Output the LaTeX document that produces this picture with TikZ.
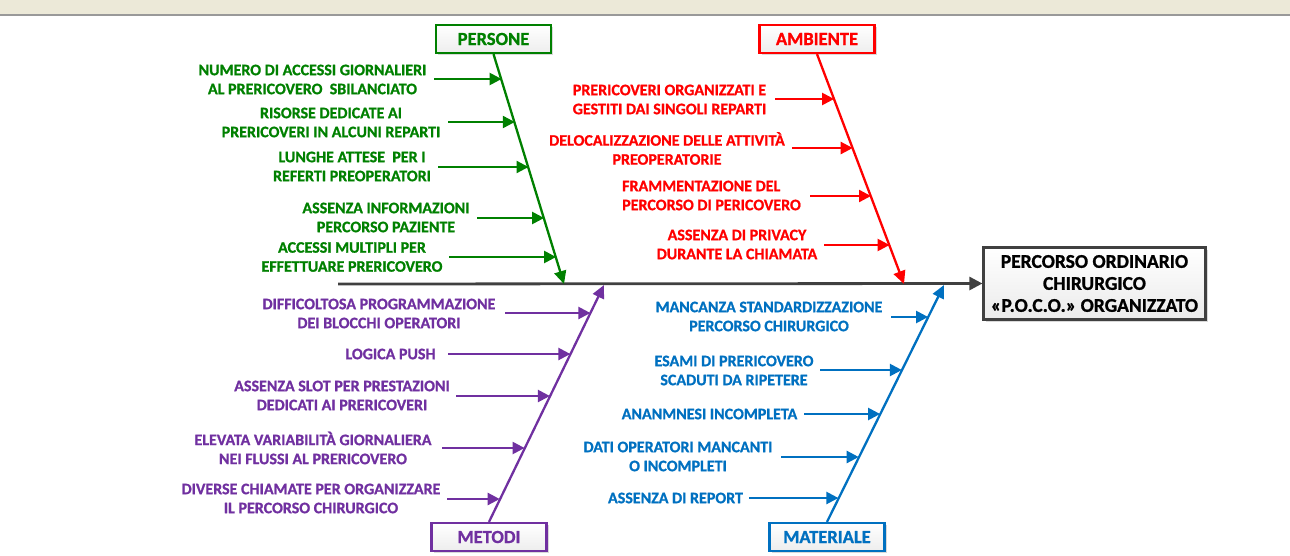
\documentclass[tikz,border=0pt]{standalone}
\usepackage{fontspec}
\setmainfont{Carlito}[BoldFeatures={FakeBold=1}]
\usetikzlibrary{arrows.meta,shadows,calc}
\definecolor{cgreen}{RGB}{0,128,0}
\definecolor{cred}{RGB}{255,0,0}
\definecolor{cpurple}{RGB}{112,48,160}
\definecolor{cblue}{RGB}{0,112,192}
\definecolor{cspine}{RGB}{64,64,64}
\definecolor{band}{RGB}{236,233,216}
\tikzset{
  cause/.style={font=\bfseries\fontsize{16}{19}\selectfont, align=center, inner sep=0pt, text=#1},
  catbox/.style={draw=#1, text=#1, line width=2.2pt, font=\bfseries\fontsize{18.5}{22}\selectfont,
    minimum width=115pt, minimum height=28pt, inner sep=0pt, top color=white, bottom color=gray!14,
    drop shadow={opacity=0.3, shadow xshift=2pt, shadow yshift=-2pt}},
  branch/.style={draw=#1, line width=2.3pt, -{Triangle[length=13pt,width=12pt]}},
  causearrow/.style={draw=#1, line width=2.3pt, -{Triangle[length=12pt,width=12pt]}},
}
\begin{document}
\begin{tikzpicture}[x=1pt,y=-1pt]
\useasboundingbox (0,0) rectangle (1290,555);
% top band
\fill[band] (0,0) rectangle (1290,14);
\draw[gray!80, line width=2pt] (0,15) -- (1290,15);

% effect box
\node[draw=cspine, line width=2.2pt, minimum width=222pt, minimum height=72pt, inner sep=0pt,
  top color=white, bottom color=gray!16, drop shadow={opacity=0.3, shadow xshift=2pt, shadow yshift=-2pt},
  align=center, font=\bfseries\fontsize{19.5}{22}\selectfont] (effect) at (1094.5,283.5)
  {PERCORSO ORDINARIO\\CHIRURGICO\\«P.O.C.O.» ORGANIZZATO};

% category boxes
\node[catbox=cgreen] (persone) at (493.5,39) {PERSONE};
\node[catbox=cred] (ambiente) at (817,39) {AMBIENTE};
\node[catbox=cpurple] (metodi) at (489,537) {METODI};
\node[catbox=cblue] (materiale) at (827,537) {MATERIALE};

% spine
\coordinate (s0) at (338,284);
\draw[cspine, line width=2.8pt, -{Triangle[length=13pt,width=13pt]}] (s0) -- (effect.west);

% branch tips on spine
\coordinate (gtip) at (564,284);
\coordinate (rtip) at (904,284);
\coordinate (ptip) at (604,285);
\coordinate (btip) at (944,285);
\draw[branch=cgreen] (persone.south) -- (gtip);
\draw[branch=cred] (ambiente.south) -- (rtip);
\draw[branch=cpurple] (metodi.north) -- (ptip);
\draw[branch=cblue] (materiale.north) -- (btip);

% ---- PERSONE causes
\node[cause=cgreen] (g1) at (312.5,79.5) {NUMERO DI ACCESSI GIORNALIERI\\AL PRERICOVERO\ \ SBILANCIATO};
\node[cause=cgreen] (g2) at (331,122.5) {RISORSE DEDICATE AI\\PRERICOVERI IN ALCUNI REPARTI};
\node[cause=cgreen] (g3) at (352,166.5) {LUNGHE ATTESE\ \ PER I\\REFERTI PREOPERATORI};
\node[cause=cgreen] (g4) at (386,217.5) {ASSENZA INFORMAZIONI\\PERCORSO PAZIENTE};
\node[cause=cgreen] (g5) at (352,257) {ACCESSI MULTIPLI PER\\EFFETTUARE PRERICOVERO};
\coordinate (g1a) at (434,79);  \coordinate (g1b) at (501.6,79);
\coordinate (g2a) at (448,122); \coordinate (g2b) at (514.8,122);
\coordinate (g3a) at (438,167); \coordinate (g3b) at (528.5,167);
\coordinate (g4a) at (477,218); \coordinate (g4b) at (544.1,218);
\coordinate (g5a) at (449,257); \coordinate (g5b) at (556.1,257);
\foreach \i in {1,...,5} {\draw[causearrow=cgreen] (g\i a) -- (g\i b);}

% ---- AMBIENTE causes
\node[cause=cred] (r1) at (669.5,99.5) {PRERICOVERI ORGANIZZATI E\\GESTITI DAI SINGOLI REPARTI};
\node[cause=cred] (r2) at (667,148.5) {DELOCALIZZAZIONE DELLE ATTIVITÀ\\PREOPERATORIE};
\node[cause=cred, align=left, anchor=west] (r3) at (622,195.5) {FRAMMENTAZIONE DEL\\PERCORSO DI PERICOVERO};
\node[cause=cred] (r4) at (737,244.5) {ASSENZA DI PRIVACY\\DURANTE LA CHIAMATA};
\coordinate (r1a) at (775,99);  \coordinate (r1b) at (834.1,99);
\coordinate (r2a) at (792,148); \coordinate (r2b) at (852.7,148);
\coordinate (r3a) at (810,196); \coordinate (r3b) at (871,196);
\coordinate (r4a) at (824,245); \coordinate (r4b) at (889.6,245);
\foreach \i in {1,...,4} {\draw[causearrow=cred] (r\i a) -- (r\i b);}

% ---- METODI causes
\node[cause=cpurple] (p1) at (379,313.5) {DIFFICOLTOSA PROGRAMMAZIONE\\DEI BLOCCHI OPERATORI};
\node[cause=cpurple] (p2) at (390.5,354) {LOGICA PUSH};
\node[cause=cpurple] (p3) at (342,395.5) {ASSENZA SLOT PER PRESTAZIONI\\DEDICATI AI PRERICOVERI};
\node[cause=cpurple] (p4) at (313,448) {ELEVATA VARIABILITÀ GIORNALIERA\\NEI FLUSSI AL PRERICOVERO};
\node[cause=cpurple] (p5) at (311,498.5) {DIVERSE CHIAMATE PER ORGANIZZARE\\IL PERCORSO CHIRURGICO};
\coordinate (p1a) at (505,313); \coordinate (p1b) at (590.4,313);
\coordinate (p2a) at (448,354); \coordinate (p2b) at (570.4,354);
\coordinate (p3a) at (456,396); \coordinate (p3b) at (549.9,396);
\coordinate (p4a) at (442,448); \coordinate (p4b) at (524.6,448);
\coordinate (p5a) at (447,499); \coordinate (p5b) at (499.7,499);
\foreach \i in {1,...,5} {\draw[causearrow=cpurple] (p\i a) -- (p\i b);}

% ---- MATERIALE causes
\node[cause=cblue] (b1) at (769,316.5) {MANCANZA STANDARDIZZAZIONE\\PERCORSO CHIRURGICO};
\node[cause=cblue] (b2) at (734,370.5) {ESAMI DI PRERICOVERO\\SCADUTI DA RIPETERE};
\node[cause=cblue] (b3) at (709.5,414) {ANANMNESI INCOMPLETA};
\node[cause=cblue] (b4) at (678,456.5) {DATI OPERATORI MANCANTI\\O INCOMPLETI};
\node[cause=cblue] (b5) at (675.5,498) {ASSENZA DI REPORT};
\coordinate (b1a) at (891,317); \coordinate (b1b) at (928.1,317);
\coordinate (b2a) at (820,370); \coordinate (b2b) at (901.9,370);
\coordinate (b3a) at (804,414); \coordinate (b3b) at (880.1,414);
\coordinate (b4a) at (781,457); \coordinate (b4b) at (858.7,457);
\coordinate (b5a) at (749,498); \coordinate (b5b) at (838.4,498);
\foreach \i in {1,...,5} {\draw[causearrow=cblue] (b\i a) -- (b\i b);}
\end{tikzpicture}
\end{document}
